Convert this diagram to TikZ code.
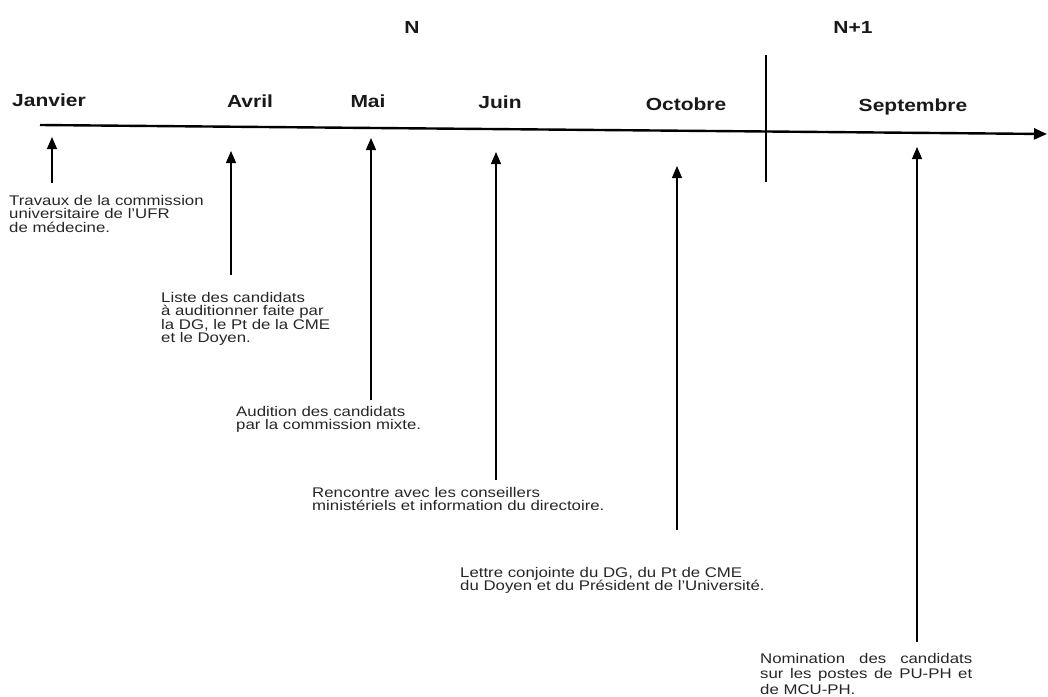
\documentclass[tikz,border=0pt]{standalone}
\usepackage{fontspec}
\setmainfont{Liberation Sans}[FakeStretch=1.2]
\usetikzlibrary{arrows.meta}
\begin{document}
\begin{tikzpicture}[x=1pt,y=-1pt,
  month/.style={font=\fontsize{17.5}{20}\selectfont\bfseries, inner sep=0, text=black!90},
  note/.style={font=\fontsize{14}{13.5}\selectfont, align=left, anchor=north west, inner sep=0, text=black!85},
  evt/.style={-{Triangle[length=12pt,width=10pt]}, line width=1.2pt},
  axis/.style={-{Triangle[length=13pt,width=11pt]}, line width=2.4pt}]
\useasboundingbox (0,0) rectangle (1048,696);
% years
\node[month] (N) at (412,27) {N};
\node[month] (N1) at (853,27) {N+1};
% axis
\coordinate (a0) at (40,125);
\coordinate (a1) at (1047,134);
\draw[axis] (a0) -- (a1);
% divider
\coordinate (d0) at (766,55);
\coordinate (d1) at (766,182);
\draw[line width=1.3pt] (d0) -- (d1);
% months
\node[month] (jan) at (49,100) {Janvier};
\node[month] (avr) at (250,101) {Avril};
\node[month] (mai) at (368,101) {Mai};
\node[month] (jui) at (500,102) {Juin};
\node[month] (oct) at (686,104) {Octobre};
\node[month] (sep) at (913,107) {Septembre};
% event arrows
\coordinate (e1s) at (52,183);  \coordinate (e1t) at (52,137);
\coordinate (e2s) at (231,275); \coordinate (e2t) at (231,151);
\coordinate (e3s) at (371,400); \coordinate (e3t) at (371,138);
\coordinate (e4s) at (496,480); \coordinate (e4t) at (496,152);
\coordinate (e5s) at (677,530); \coordinate (e5t) at (677,166);
\coordinate (e6s) at (917,642); \coordinate (e6t) at (917,147);
\draw[evt] (e1s) -- (e1t);
\draw[evt] (e2s) -- (e2t);
\draw[evt] (e3s) -- (e3t);
\draw[evt] (e4s) -- (e4t);
\draw[evt] (e5s) -- (e5t);
\draw[evt] (e6s) -- (e6t);
% notes
\node[note] (t1) at (9,195) {Travaux de la commission\\universitaire de l'UFR\\de médecine.};
\node[note] (t2) at (161,292) {Liste des candidats\\à auditionner faite par\\la DG, le Pt de la CME\\et le Doyen.};
\node[note] (t3) at (236,406) {Audition des candidats\\par la commission mixte.};
\node[note] (t4) at (312,487) {Rencontre avec les conseillers\\ministériels et information du directoire.};
\node[note] (t5) at (460,567) {Lettre conjointe du DG, du Pt de CME\\du Doyen  et du Président de l'Université.};
\node[note, align=justify, text width=212pt, font=\fontsize{14}{15.5}\selectfont] (t6) at (760,653) {Nomination des candidats sur les postes de PU-PH et de MCU-PH.};
\end{tikzpicture}
\end{document}
